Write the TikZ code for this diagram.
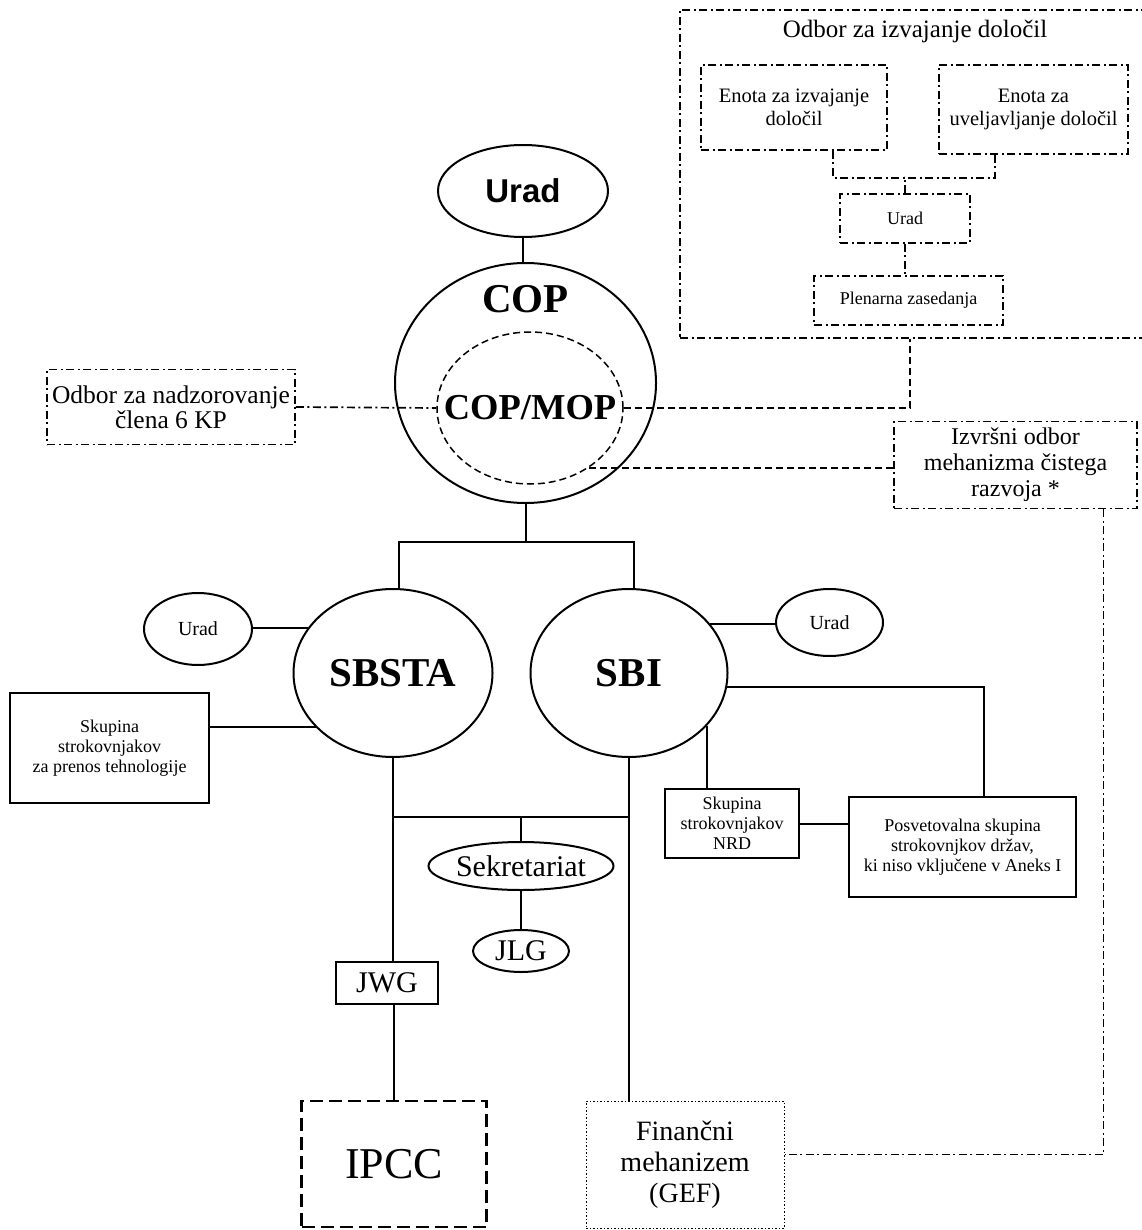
\documentclass[tikz,border=0pt]{standalone}
\usepackage{fontspec}
\setmainfont{Liberation Serif}
\newfontfamily\headsans{Liberation Sans}
\usetikzlibrary{shapes.geometric}
\newcommand{\fsz}[2]{\fontsize{#1}{#2}\selectfont}

\begin{document}
\begin{tikzpicture}[x=1pt, y=-1pt, line width=2pt,
      box/.style={draw, rectangle, inner sep=0pt, align=center},
      oval/.style={draw, ellipse, inner sep=0pt, align=center},
      dd/.style={line width=1.7pt, dash pattern=on 8pt off 3.5pt on 2pt off 3.5pt},
      dsh/.style={line width=1.5pt, dash pattern=on 7pt off 4pt}]
      \useasboundingbox (0,0) rectangle (1141,1230);
      % upper right: Odbor za izvajanje
      \node[box, dd, minimum width=470pt, minimum height=328pt,
        label={[anchor=center, yshift=-22pt, font=\fsz{25}{28}]north:Odbor za izvajanje določil}] (odbor) at (915,174) {};
      \node[box, dd, minimum width=186pt, minimum height=85pt, font=\fsz{20.5}{23.5}] (enota1) at (794,107.5) {Enota za izvajanje\\določil};
      \node[box, dd, minimum width=189pt, minimum height=89pt, font=\fsz{20.5}{23.5}] (enota2) at (1033.5,109.5) {Enota za\\uveljavljanje določil};
      \node[box, dd, minimum width=130pt, minimum height=49pt, font=\fsz{18}{20}] (urad4) at (905,218.5) {Urad};
      \node[box, dd, minimum width=189pt, minimum height=49pt, font=\fsz{18}{20}] (plen) at (908.5,300.5) {Plenarna zasedanja};
      % COP
      \node[oval, minimum width=170pt, minimum height=92pt, font=\headsans\bfseries\fsz{33}{36}] (urad1) at (523,191) {Urad};
      \node[oval, minimum width=261pt, minimum height=240pt] (cop) at (525.5,383) {};
      \node[font=\bfseries\fsz{41}{44}] (coptxt) at ([yshift=-37pt]cop.north) {COP};
      \node[oval, dsh, minimum width=186pt, minimum height=152pt] (copmop) at (530,408) {};
      \node[font=\bfseries\fsz{36.5}{40}] (copmoptxt) at (copmop) {COP/MOP};
      \node[box, dd, minimum width=248pt, minimum height=75pt, font=\fsz{25.5}{25}] (nadzor) at (171,407) {Odbor za nadzorovanje\\člena 6 KP};
      \node[box, dd, minimum width=243pt, minimum height=87pt, font=\fsz{24}{26}] (izvrsni) at (1015.5,465) {Izvršni odbor\\mehanizma čistega\\razvoja *};
      % SBSTA, SBI
      \node[oval, minimum width=199pt, minimum height=168pt, font=\bfseries\fsz{41}{44}] (sbsta) at (393,673) {SBSTA};
      \node[oval, minimum width=197pt, minimum height=168pt, font=\bfseries\fsz{41}{44}] (sbi) at (629,673) {SBI};
      \node[oval, minimum width=108pt, minimum height=72pt, font=\fsz{20}{22}] (urad2) at (198,629) {Urad};
      \node[oval, minimum width=107pt, minimum height=67pt, font=\fsz{20}{22}] (urad3) at (829.5,622.5) {Urad};
      \node[box, minimum width=199pt, minimum height=110pt, font=\fsz{18}{20}] (tehno) at (109.5,748) {Skupina\\strokovnjakov\\za prenos tehnologije};
      \node[box, minimum width=134pt, minimum height=69pt, font=\fsz{18}{20}] (nrd) at (732,823.5) {Skupina\\strokovnjakov\\NRD};
      \node[box, minimum width=227pt, minimum height=100pt, font=\fsz{18}{20}] (posv) at (962.5,847) {Posvetovalna skupina\\strokovnjkov držav,\\ki niso vključene v Aneks I};
      % lower part
      \node[oval, minimum width=185pt, minimum height=48pt, font=\fsz{30}{32}] (sek) at (521,866) {Sekretariat};
      \node[oval, minimum width=96pt, minimum height=42pt, font=\fsz{30}{32}] (jlg) at (521,951) {JLG};
      \node[box, minimum width=102pt, minimum height=42pt, font=\fsz{30}{32}] (jwg) at (387,983) {JWG};
      \node[box, line width=2.3pt, dash pattern=on 13pt off 6pt, minimum width=185pt, minimum height=126pt, font=\fsz{44}{46}] (ipcc) at (394,1164) {IPCC};
      \node[box, line width=1pt, dash pattern=on 1.5pt off 2pt, minimum width=198pt, minimum height=127pt, font=\fsz{28}{31}] (fin) at (685,1164.5) {Finančni\\mehanizem\\(GEF)};

      % solid connectors
      \draw (urad1.south) -- (urad1.south |- cop.north);
      \draw (cop.south) -- ++(0,38) coordinate (copbar);
      \draw ([xshift=6pt]sbsta.north) |- (copbar) -| ([xshift=5pt]sbi.north);
      \draw (sbsta.152) -- (sbsta.152 -| urad2.east);
      \draw (sbsta.-145) -- (sbsta.-145 -| tehno.east);
      \draw (sbi.31) -- (sbi.31 -| urad3.west);
      \draw (sbi.-8) -| ([xshift=21.5pt]posv.north);
      \draw (sbi.-34) -- (sbi.-34 |- nrd.north);
      \draw (nrd.east) -- (nrd.east -| posv.west);
      \draw (sbsta.south) -- (sbsta.south |- jwg.north);
      \draw (jwg.south -| ipcc.north) -- (ipcc.north);
      \draw (sek.north) -- ++(0,-24) coordinate (sekbar);
      \draw (sbsta.south |- sekbar) -- (sbi.south |- sekbar);
      \draw (sbi.south) -- (sbi.south |- fin.north);
      \draw (sek.south) -- (jlg.north);

      % dashed connectors
      \draw[dd] ([xshift=39pt]enota1.south) -- ++(0,27) -| ([xshift=-38.5pt]enota2.south);
      \draw[dd] (urad4.north) -- ++(0,-17);
      \draw[dd] (urad4.south) -- (urad4.south |- plen.north);
      \draw[dd] (nadzor.east) -- (copmop.west);
      \draw[dsh] (copmop.east) -| ([xshift=-5pt]odbor.south);
      \draw[dsh] ([yshift=-3pt]izvrsni.west) -- ([yshift=-3pt]izvrsni.west -| copmop.-45);
      \draw[dd] ([xshift=88pt]izvrsni.south) |- ([yshift=10pt]fin.east);
    \end{tikzpicture}
\end{document}
